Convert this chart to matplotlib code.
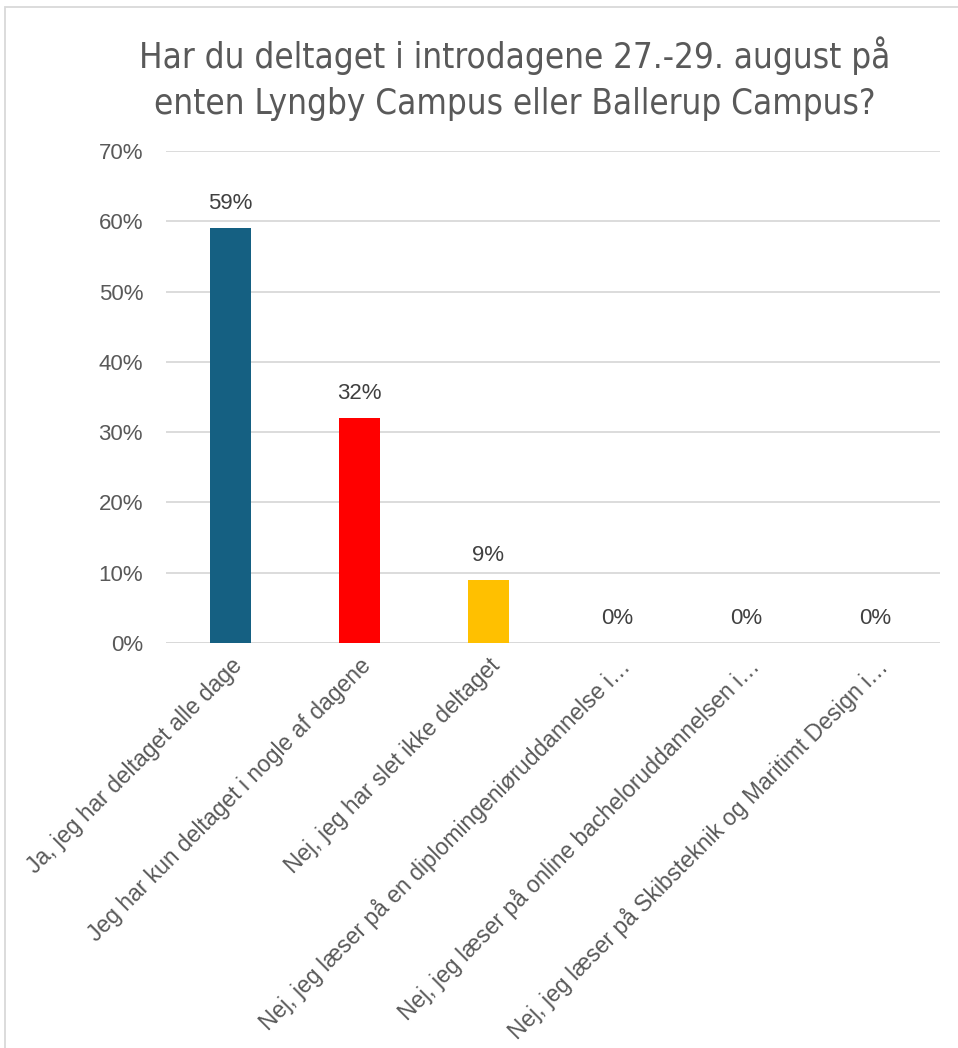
import matplotlib
matplotlib.use("Agg")
import matplotlib.pyplot as plt
from matplotlib.patches import Rectangle
from matplotlib.ticker import PercentFormatter

categories = [
    "Ja, jeg har deltaget alle dage",
    "Jeg har kun deltaget i nogle af dagene",
    "Nej, jeg har slet ikke deltaget",
    "Nej, jeg læser på en diplomingeniøruddannelse i…",
    "Nej, jeg læser på online bacheloruddannelsen i…",
    "Nej, jeg læser på Skibsteknik og Maritimt Design i…",
]
values = [0.59, 0.32, 0.09, 0.0, 0.0, 0.0]
bar_colors = ["#156082", "#FF0000", "#FFC000", "#156082", "#156082", "#156082"]
title = "Har du deltaget i introdagene 27.-29. august på\nenten Lyngby Campus eller Ballerup Campus?"
yticks = [0, 0.1, 0.2, 0.3, 0.4, 0.5, 0.6, 0.7]

W, H = 958, 1048
fig = plt.figure(figsize=(W / 100, H / 100), dpi=100)
fig.patch.set_facecolor("white")

# chart border (only left/top visible in crop)
fig.patches.append(Rectangle((5 / W, -0.1), 1.2, 1 - 7 / H + 0.1, transform=fig.transFigure,
                             fill=False, edgecolor="#D9D9D9", linewidth=1.3))

ax = fig.add_axes([166 / W, 1 - 643 / H, (940 - 166) / W, (643 - 151) / H])
x = list(range(len(categories)))
ax.bar(x, values, width=0.32, color=bar_colors, zorder=3)
ax.set_xlim(-0.5, len(categories) - 0.5)
ax.set_ylim(0, 0.7)
ax.set_yticks(yticks)
ax.yaxis.set_major_formatter(PercentFormatter(1.0, decimals=0))
ax.grid(axis="y", color="#D9D9D9", linewidth=1.3, zorder=0)
for s in ax.spines.values():
    s.set_visible(False)
ax.axhline(0, color="#D9D9D9", linewidth=1.3, zorder=2)
ax.tick_params(axis="both", length=0)
ax.tick_params(axis="y", pad=16.5, labelsize=16, labelcolor="#595959")
for lab in ax.get_yticklabels():
    lab.set_fontfamily(["Liberation Sans", "DejaVu Sans"])

ax.set_xticks(x)
ax.set_xticklabels(categories, rotation=45, ha="right", va="top", rotation_mode="anchor",
                   fontsize=16.5, color="#595959", family=["Liberation Sans", "DejaVu Sans"])
ax.tick_params(axis="x", pad=8)

for xi, v in zip(x, values):
    ax.annotate(f"{v*100:.0f}%", (xi, v), xytext=(0, 10), textcoords="offset points",
                ha="center", va="bottom", fontsize=16, color="#404040",
                family=["Liberation Sans", "DejaVu Sans"])

fig.text(515 / W, 1 - 78.5 / H, title, ha="center", va="center", fontsize=25,
         color="#595959", family=["Liberation Sans Narrow", "DejaVu Sans"],
         linespacing=1.42, fontstretch="condensed")

fig.savefig("out.png", dpi=100, facecolor="white")
